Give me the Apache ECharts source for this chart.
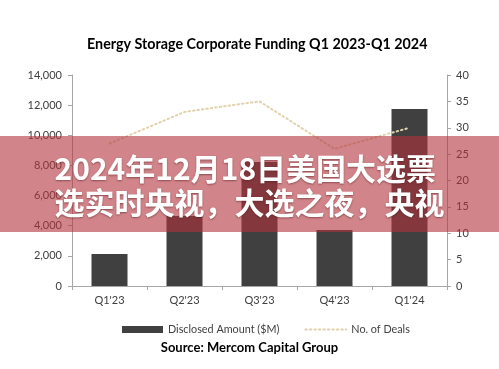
<!DOCTYPE html>
<html>
<head>
<meta charset="utf-8">
<script src="https://cdn.jsdelivr.net/npm/echarts@6/dist/echarts.min.js"></script>
<style>html,body{margin:0;padding:0;background:#fff;}#c{width:499px;height:369px;}</style>
</head>
<body>
<div id="c"></div>
<script>
const categories = ["Q1'23", "Q2'23", "Q3'23", "Q4'23", "Q1'24"];
const amountValues = [2120, 4650, 8230, 3720, 11740];
const dealValues = [27, 33, 35, 26, 30];
const leftTicks = [0, 14000, 2000];
const rightTicks = [0, 40, 5];
const titleText = "Energy Storage Corporate Funding Q1 2023-Q1 2024";
const sourceText = "Source: Mercom Capital Group";
const overlayLines = ["2024年12月18日美国大选票", "选实时央视，大选之夜，央视"];

const chart = echarts.init(document.getElementById('c'));
const font = 'Lato, "Open Sans", sans-serif';
const lineColor = '#e2d2ac';
chart.setOption({
  animation: false,
  title: {
    text: titleText, left: 82, top: 32,
    textStyle: {fontFamily: font, fontSize: 14.3, fontWeight: 'bold', color: '#000'}
  },
  grid: {left: 72, right: 52, top: 75, bottom: 83},
  legend: {
    left: 117, top: 319, itemWidth: 41, itemHeight: 7, itemGap: 25,
    textStyle: {fontFamily: font, fontSize: 10.8, color: '#404040'},
    data: [
      {name: 'Disclosed Amount ($M)', icon: 'rect'},
      {name: 'No. of Deals', itemStyle: {opacity: 0}}
    ]
  },
  xAxis: {
    type: 'category', data: categories,
    axisLine: {lineStyle: {color: '#a6a6a6', width: 1}},
    axisTick: {show: true, length: 4, lineStyle: {color: '#a6a6a6'}},
    axisLabel: {fontFamily: font, fontSize: 11, color: '#404040', margin: 9}
  },
  yAxis: [
    {
      type: 'value', min: leftTicks[0], max: leftTicks[1], interval: leftTicks[2],
      axisLine: {show: true, lineStyle: {color: '#a6a6a6'}},
      axisTick: {show: true, length: 4, lineStyle: {color: '#a6a6a6'}},
      splitLine: {show: false},
      axisLabel: {fontFamily: font, fontSize: 11, color: '#404040', margin: 10,
        formatter: v => v.toLocaleString('en-US')}
    },
    {
      type: 'value', min: rightTicks[0], max: rightTicks[1], interval: rightTicks[2],
      position: 'right',
      axisLine: {show: true, lineStyle: {color: '#a6a6a6'}},
      axisTick: {show: true, length: 4, lineStyle: {color: '#a6a6a6'}},
      splitLine: {show: false},
      axisLabel: {fontFamily: font, fontSize: 11, color: '#404040', margin: 9}
    }
  ],
  series: [
    {
      name: 'Disclosed Amount ($M)', type: 'bar', data: amountValues,
      barWidth: 36, itemStyle: {color: '#404040'}
    },
    {
      name: 'No. of Deals', type: 'line', yAxisIndex: 1, data: dealValues,
      symbol: 'none', showSymbol: false, itemStyle: {color: lineColor},
      lineStyle: {color: lineColor, width: 2, type: [1.5, 3], cap: 'round'}
    }
  ],
  graphic: [
    {type: 'text', left: 'center', top: 341, z: 10,
      style: {text: sourceText, fontFamily: font, fontSize: 13, fontWeight: 'bold', fill: '#000'}},
    {type: 'rect', left: 0, top: 136, z: 100, shape: {width: 499, height: 96},
      style: {fill: 'rgba(178, 52, 62, 0.6)'}},
    {type: 'text', left: 'center', top: 152, z: 101,
      style: {text: overlayLines.join('\n'), fontFamily: '"Noto Sans CJK SC", sans-serif',
        fontSize: 30, fontWeight: 'bold', fill: '#fff', lineHeight: 34, align: 'center',
        textShadowColor: 'rgba(80,20,20,0.5)', textShadowBlur: 2, textShadowOffsetY: 1}}
  ]
});
</script>
</body>
</html>
